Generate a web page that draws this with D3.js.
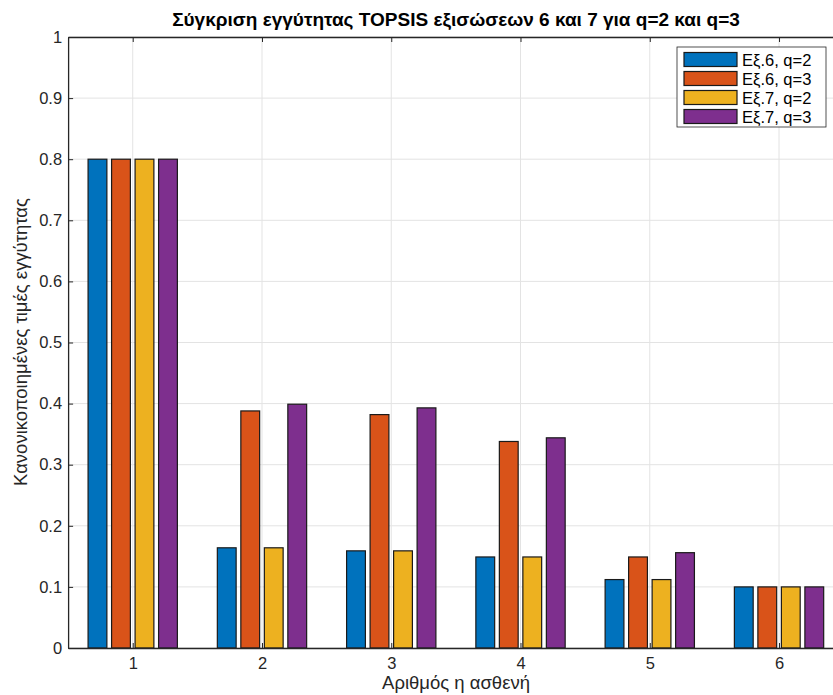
<!DOCTYPE html>
<html><head><meta charset="utf-8">
<script src="https://cdn.jsdelivr.net/npm/d3@7"></script>
<style>body{margin:0;background:#fff}svg{display:block}text{font-family:"Liberation Sans",Arial,sans-serif}</style>
</head><body>
<svg id="c" width="833" height="695"></svg>
<script>
const categories = [1, 2, 3, 4, 5, 6];
const seriesNames = ["Εξ.6, q=2", "Εξ.6, q=3", "Εξ.7, q=2", "Εξ.7, q=3"];
const eq6q2 = [0.800, 0.164, 0.159, 0.149, 0.112, 0.100];
const eq6q3 = [0.800, 0.388, 0.382, 0.338, 0.149, 0.100];
const eq7q2 = [0.800, 0.164, 0.159, 0.149, 0.112, 0.100];
const eq7q3 = [0.800, 0.399, 0.393, 0.344, 0.156, 0.100];
const yTicks = [0, 0.1, 0.2, 0.3, 0.4, 0.5, 0.6, 0.7, 0.8, 0.9, 1];
const colors = ["#0072BD", "#D95319", "#EDB120", "#7E2F8E"];
const series = [eq6q2, eq6q3, eq7q2, eq7q3];

const svg = d3.select("#c");
const L = 68.1, T = 37, B = 648, unit = 129.26;
const x = d3.scaleLinear().domain([0.5, 6.5]).range([L, L + 6 * unit]);
const y = d3.scaleLinear().domain([0, 1]).range([B, T]);
const axisCol = "#262626";

// grid
const g = svg.append("g");
g.selectAll(".gy").data(yTicks).enter().append("line")
  .attr("x1", L).attr("x2", 833).attr("y1", d => y(d)).attr("y2", d => y(d))
  .attr("stroke", "#e3e3e3").attr("stroke-width", 1);
g.selectAll(".gx").data(categories).enter().append("line")
  .attr("x1", d => x(d)).attr("x2", d => x(d)).attr("y1", T).attr("y2", B)
  .attr("stroke", "#e3e3e3").attr("stroke-width", 1);

// bars
const groupW = Math.min(0.8, 4 / (4 + 1.5));
const slot = groupW / 4;
const barW = slot * 0.8;
series.forEach((vals, si) => {
  svg.append("g").selectAll("rect").data(vals).enter().append("rect")
    .attr("x", (d, i) => x(categories[i] - groupW / 2 + slot * si + (slot - barW) / 2))
    .attr("width", x(barW) - x(0))
    .attr("y", d => y(d))
    .attr("height", d => y(0) - y(d))
    .attr("fill", colors[si]).attr("stroke", "#1a1a1a").attr("stroke-width", 1.2);
});

// axes
const yAxis = d3.axisLeft(y).tickValues(yTicks).tickSizeInner(-5).tickSizeOuter(0)
  .tickPadding(6).tickFormat(d => d === 0 ? "0" : d === 1 ? "1" : d3.format(".1f")(d));
const ya = svg.append("g").attr("transform", `translate(${L},0)`).call(yAxis);
const xAxis = d3.axisBottom(x).tickValues(categories).tickSizeInner(-5).tickSizeOuter(0)
  .tickPadding(9).tickFormat(d3.format("d"));
const xa = svg.append("g").attr("transform", `translate(0,${B})`).call(xAxis);
const xt = svg.append("g").attr("transform", `translate(0,${T})`).call(d3.axisTop(x).tickValues(categories).tickSizeInner(-5).tickSizeOuter(0).tickFormat(""));
[ya, xa, xt].forEach(a => {
  a.select(".domain").attr("stroke", axisCol).attr("stroke-width", 1.3);
  a.selectAll(".tick line").attr("stroke", axisCol).attr("stroke-width", 1);
  a.selectAll(".tick text").attr("fill", axisCol).style("font-size", "16.5px")
   .style("font-family", "'Liberation Sans', Arial, sans-serif");
});

// title & labels
svg.append("text").attr("x", 456).attr("y", 26).attr("text-anchor", "middle")
  .style("font-size", "19px").style("font-weight", "bold").attr("fill", "#000")
  .text("Σύγκριση εγγύτητας TOPSIS εξισώσεων 6 και 7 για q=2 και q=3");
svg.append("text").attr("x", 456).attr("y", 689).attr("text-anchor", "middle")
  .style("font-size", "18.5px").attr("fill", axisCol).text("Αριθμός η ασθενή");
svg.append("text").attr("transform", "translate(27,342) rotate(-90)").attr("text-anchor", "middle")
  .style("font-size", "18.5px").attr("fill", axisCol).text("Κανονικοποιημένες τιμές εγγύτητας");

// legend
const lg = svg.append("g").attr("transform", "translate(677,47)");
lg.append("rect").attr("width", 149).attr("height", 80).attr("fill", "#fff")
  .attr("stroke", "#262626").attr("stroke-width", 0.8);
seriesNames.forEach((n, i) => {
  lg.append("rect").attr("x", 7).attr("y", 5.5 + i * 19).attr("width", 53).attr("height", 14)
    .attr("fill", colors[i]).attr("stroke", "#1a1a1a").attr("stroke-width", 1.2);
  lg.append("text").attr("x", 65).attr("y", 18.5 + i * 19).style("font-size", "16.5px")
    .attr("fill", "#000").text(n);
});
</script>
</body></html>
